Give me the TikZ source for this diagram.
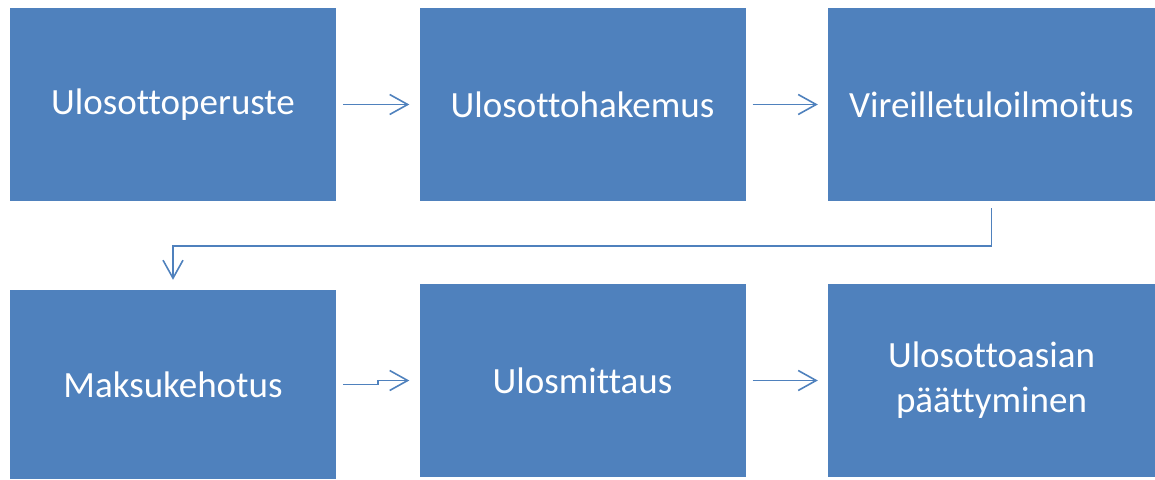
\documentclass[tikz,border=0pt]{standalone}
\usepackage{fontspec}
\setmainfont[Ligatures={NoCommon}]{Carlito}
\usepackage{xcolor}
\usetikzlibrary{arrows.meta}
\definecolor{stepblue}{RGB}{79,129,189}

\begin{document}
\begin{tikzpicture}[x=1pt, y=-1pt,
    phase/.style={fill=stepblue, draw=none, inner sep=0pt, text=white, align=center,
        minimum width=326pt, minimum height=193pt, font=\fontsize{37}{45}\selectfont},
    flow/.style={draw=stepblue, line width=1.6pt, -{Straight Barb[length=18pt, width=20pt, line width=1.6pt]}}]
    \useasboundingbox (0,0) rectangle (1155,479);
    % upper row
    \node[phase] (peruste) at (173,104.5) {Ulosottoperuste};
    \node[phase] (hakemus) at (582.5,104.5) {Ulosottohakemus};
    \node[phase, minimum width=327pt] (ilmoitus) at (991.5,104.5) {Vireilletuloilmoitus};
    % lower row
    \node[phase, minimum height=189pt] (kehotus) at (173,384.5) {Maksukehotus};
    \node[phase] (mittaus) at (582.5,380.5) {Ulosmittaus};
    \node[phase, minimum width=327pt] (paatos) at (991.5,380.5) {Ulosottoasian\\päättyminen};
    % connectors
    \draw[flow, shorten <=7pt, shorten >=10pt] (peruste) -- (hakemus);
    \draw[flow, shorten <=7pt, shorten >=10pt] (hakemus) -- (ilmoitus);
    \draw[flow] ([yshift=-7pt]ilmoitus.south) -- ++(0,38) -| ([yshift=10pt]kehotus.north);
    \draw[flow] ([xshift=7pt]kehotus.east) -- ++(35,0) |- ([xshift=-10pt]mittaus.west);
    \draw[flow, shorten <=7pt, shorten >=10pt] (mittaus) -- (paatos);
\end{tikzpicture}
\end{document}
